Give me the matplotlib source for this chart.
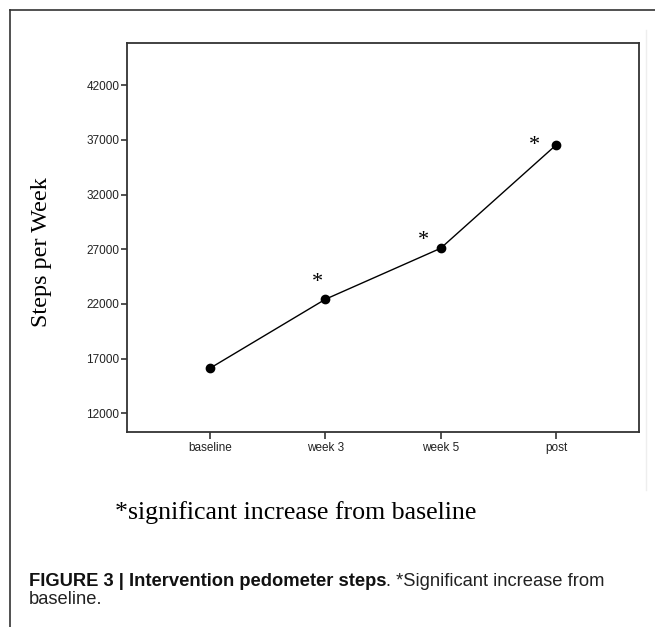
import matplotlib
matplotlib.use('Agg')
import matplotlib.pyplot as plt
from matplotlib.lines import Line2D

# Data
labels = ['baseline', 'week 3', 'week 5', 'post']
steps = [16130, 22430, 27090, 36520]
significant = [False, True, True, True]
yticks = [12000, 17000, 22000, 27000, 32000, 37000, 42000]

W, H = 655, 627

def main():
    fig = plt.figure(figsize=(W / 100, H / 100), dpi=100)
    ax = fig.add_axes([127 / W, 1 - 432 / H, 512 / W, 389 / H])

    x = list(range(len(labels)))
    ax.plot(x, steps, color='black', lw=1.0, marker='o', ms=6, mfc='black', mec='black')
    # asterisks for significant increase
    offs = [(0, 0), (-8, 17), (-17, 8), (-22, 0)]
    for i in range(len(labels)):
        if significant[i]:
            ax.annotate('*', (x[i], steps[i]), xytext=offs[i], textcoords='offset pixels',
                        ha='center', va='center', fontsize=16, family='Liberation Serif')

    ax.set_xlim(-0.72, 3.72)
    ax.set_ylim(10300, 45850)
    ax.set_xticks(x)
    ax.set_xticklabels(labels)
    ax.set_yticks(yticks)
    ax.set_yticklabels([str(v) for v in yticks])
    for lab in ax.get_xticklabels() + ax.get_yticklabels():
        lab.set_family('Liberation Sans')
        lab.set_fontsize(8.5)
        lab.set_color('#222222')
    ax.tick_params(axis='y', length=4, width=1.2, pad=1.5, color='#333333')
    ax.tick_params(axis='x', length=5, width=1.2, pad=2, color='#333333')
    for s in ax.spines.values():
        s.set_linewidth(1.3)
        s.set_color('#333333')

    fig.text(42 / W, 1 - 252 / H, 'Steps per Week', rotation=90, ha='center', va='center',
             fontsize=17.4, family='Liberation Serif')

    # outer frame pieces
    fig.add_artist(Line2D([10 / W, 1], [1 - 10 / H, 1 - 10 / H], color='#333333', lw=1.2))
    fig.add_artist(Line2D([10 / W, 10 / W], [0, 1 - 10 / H], color='#333333', lw=1.2))
    fig.add_artist(Line2D([646 / W, 646 / W], [1 - 490 / H, 1 - 30 / H], color='#eeeeee', lw=1))

    fig.text(115 / W, 1 - 519 / H, '*significant increase from baseline', ha='left', va='baseline',
             fontsize=18.6, family='Liberation Serif')

    # caption
    t1 = fig.text(29 / W, 1 - 586 / H, 'FIGURE 3 | Intervention pedometer steps', ha='left',
                  va='baseline', fontsize=13.2, fontweight='bold', family='Liberation Sans', color='#111111')
    fig.canvas.draw()
    bb = t1.get_window_extent()
    fig.text(bb.x1 / W, 1 - 586 / H, '. *Significant increase from', ha='left', va='baseline',
             fontsize=13.2, family='Liberation Sans', color='#222222')
    fig.text(29 / W, 1 - 604 / H, 'baseline.', ha='left', va='baseline',
             fontsize=13.2, family='Liberation Sans', color='#222222')

    fig.savefig('out.png', dpi=100)

if __name__ == "__main__":
    main()
